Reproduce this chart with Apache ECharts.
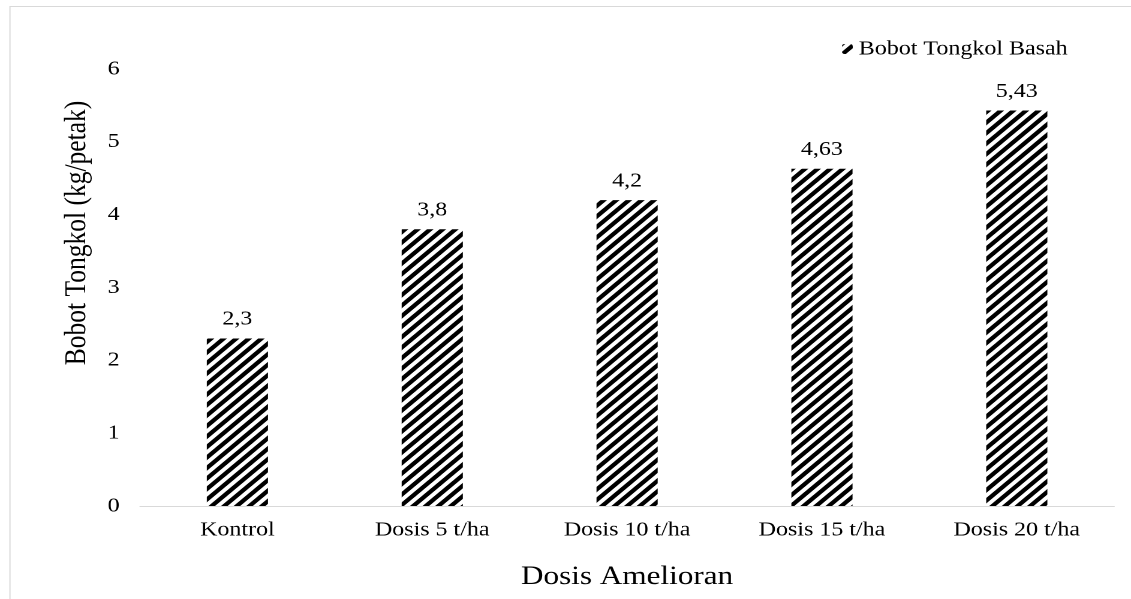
<!DOCTYPE html>
<html>
<head>
<meta charset="utf-8">
<script src="https://cdn.jsdelivr.net/npm/echarts@6/dist/echarts.min.js"></script>
<style>
html,body{margin:0;padding:0;background:#fff;overflow:hidden;}
#wrap{width:1131px;height:599px;overflow:hidden;position:relative;}
#chart{width:943px;height:599px;transform:scaleX(1.19936);transform-origin:0 0;}
</style>
</head>
<body>
<div id="wrap"><div id="chart"></div></div>
<script>
const categories = ['Kontrol', 'Dosis 5 t/ha', 'Dosis 10 t/ha', 'Dosis 15 t/ha', 'Dosis 20 t/ha'];
const values = [2.3, 3.8, 4.2, 4.63, 5.43];
const seriesName = 'Bobot Tongkol Basah';
const xTitle = 'Dosis Amelioran';
const yTitle = 'Bobot Tongkol (kg/petak)';
const yMin = 0, yMax = 6, yInterval = 1;

const FONT = "'Liberation Serif', 'Times New Roman', serif";

function makeHatch() {
  const s = 10.5;
  const k = 2;
  const c = document.createElement('canvas');
  c.width = Math.round(s * k); c.height = Math.round(s * k);
  const ctx = c.getContext('2d');
  ctx.scale(c.width / s, c.height / s);
  ctx.fillStyle = '#fff';
  ctx.fillRect(0, 0, s, s);
  ctx.strokeStyle = '#000';
  ctx.lineWidth = 3.9;
  for (const x0 of [-s, 0, s]) {
    ctx.beginPath();
    ctx.moveTo(x0 - 2, s + 2);
    ctx.lineTo(x0 + s + 2, -2);
    ctx.stroke();
  }
  return c;
}
const hatch = { image: makeHatch(), repeat: 'repeat', scaleX: 0.5, scaleY: 0.5 };

const chart = echarts.init(document.getElementById('chart'), null, { devicePixelRatio: 2 });
chart.setOption({
  backgroundColor: '#fff',
  animation: false,
  textStyle: { fontFamily: FONT, color: '#000' },
  graphic: [
    { type: 'rect', shape: { x: 8.3, y: 6.5, width: 2000, height: 2000 },
      style: { fill: 'none', stroke: '#d9d9d9', lineWidth: 1 }, silent: true },
    { type: 'text', x: 64.5, y: 233, rotation: Math.PI / 2,
      style: { text: yTitle, fontFamily: FONT, fontSize: 25.5, fill: '#000',
               textAlign: 'center', textVerticalAlign: 'middle' } }
  ],
  legend: {
    left: 697, top: 34,
    itemWidth: 9, itemHeight: 10,
    itemGap: 5,
    textStyle: { fontFamily: FONT, fontSize: 20, color: '#000' },
    data: [seriesName]
  },
  grid: { left: 116.7, right: 14, top: 69, bottom: 93, containLabel: false },
  xAxis: {
    type: 'category',
    data: categories,
    axisLine: { lineStyle: { color: '#d9d9d9', width: 1 } },
    axisTick: { show: false },
    axisLabel: { fontFamily: FONT, fontSize: 20, color: '#000', margin: 14 },
    name: xTitle,
    nameLocation: 'middle',
    nameGap: 58,
    nameTextStyle: { fontFamily: FONT, fontSize: 26, color: '#000' }
  },
  yAxis: {
    type: 'value',
    min: yMin, max: yMax, interval: yInterval,
    axisLine: { show: false },
    axisTick: { show: false },
    splitLine: { show: false },
    axisLabel: { fontFamily: FONT, fontSize: 20, color: '#000', margin: 17 }
  },
  series: [{
    name: seriesName,
    type: 'bar',
    data: values,
    barWidth: 51,
    itemStyle: { color: hatch },
    label: {
      show: true, position: 'top', distance: 9,
      fontFamily: FONT, fontSize: 20, color: '#000',
      formatter: p => String(p.value).replace('.', ',')
    }
  }]
});
</script>
</body>
</html>
